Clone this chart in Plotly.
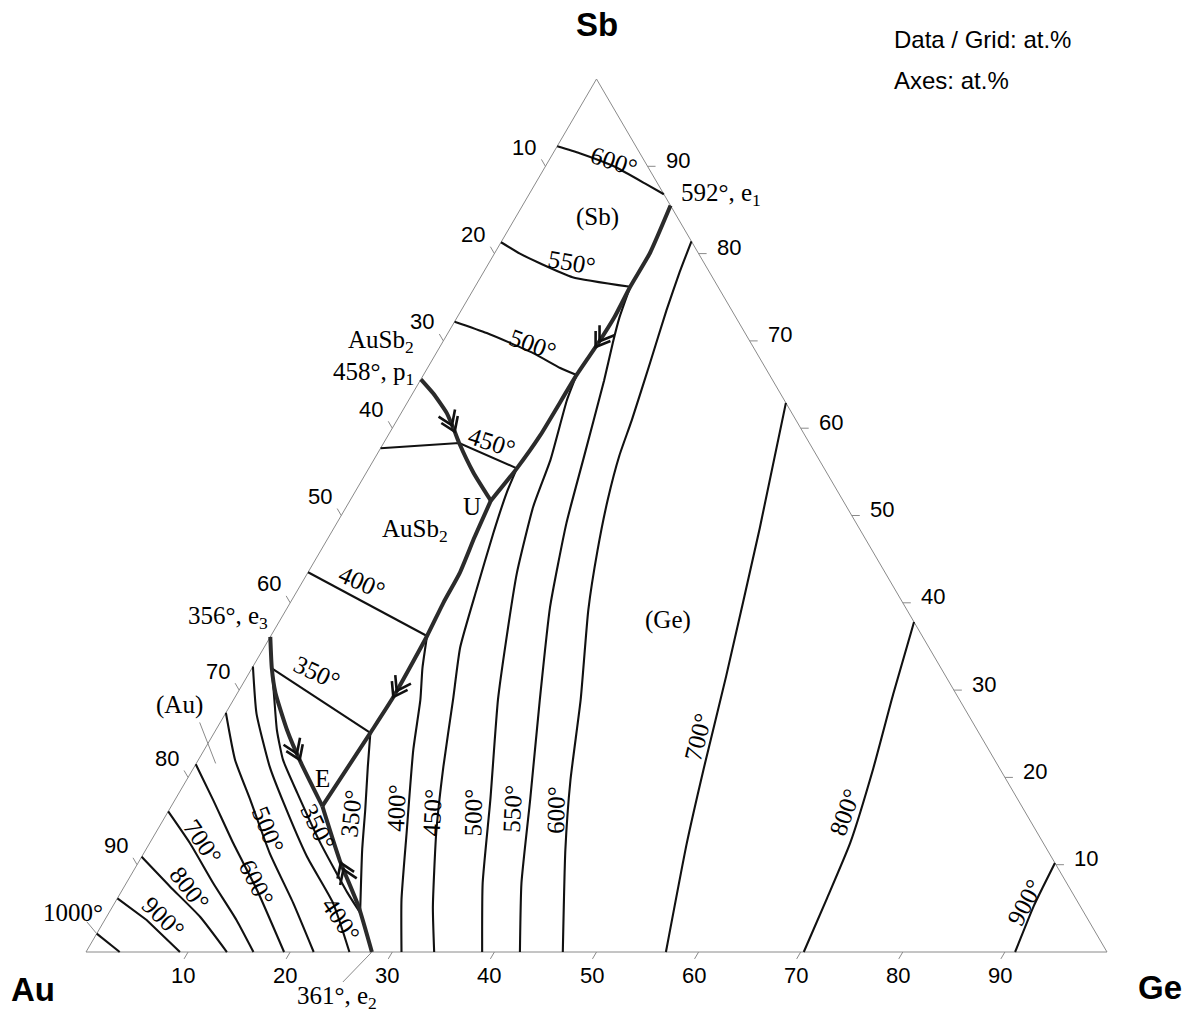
import math
import plotly.graph_objects as go

# ---------------------------------------------------------------
# Au-Ge-Sb liquidus projection, compositions in at.%
# every curve is stored as Ge and Sb lists (Au = 100 - Ge - Sb)
# ---------------------------------------------------------------
TICKS = [10, 20, 30, 40, 50, 60, 70, 80, 90]

# invariant points (Ge, Sb)
E1_GE, E1_SB = 14.5, 85.5      # 592 deg, e1
E2_GE, E2_SB = 28.0, 0.0       # 361 deg, e2
E3_GE, E3_SB = 0.0, 36.1       # 356 deg, e3
P1_GE, P1_SB = 0.0, 65.6       # 458 deg, p1
U_GE, U_SB = 13.8, 51.7        # U
E_GE, E_SB = 14.8, 16.7        # E

# monovariant valleys, ordered towards falling temperature
E1U_GE = [14.5, 15.2, 15.2, 15.4, 15.3, 15.0, 14.9, 14.5, 13.8]
E1U_SB = [85.5, 80.1, 76.2, 72.7, 69.8, 66.1, 59.2, 55.4, 51.7]
P1U_GE = [0.0, 2.0, 4.5, 6.4, 7.4, 10.5, 13.8]
P1U_SB = [65.6, 64.0, 61.7, 59.5, 58.3, 54.9, 51.7]
UE_GE = [13.8, 14.3, 14.9, 15.0, 15.3, 15.5, 15.3, 14.8]
UE_SB = [51.7, 47.5, 43.4, 40.0, 36.2, 29.2, 25.1, 16.7]
E3E_GE = [0.0, 1.95, 3.7, 7.0, 10.1, 14.8]
E3E_SB = [36.1, 32.5, 29.7, 25.4, 21.8, 16.7]
E2E_GE = [28.0, 24.1, 19.6, 14.8]
E2E_SB = [0.0, 5.2, 10.5, 16.7]

# isotherms, (Sb) primary field
SB600_GE = [0.0, 2.6, 6.7, 11.0, 13.2]
SB600_SB = [92.3, 91.5, 90.0, 87.9, 86.8]
SB550_GE = [0.0, 2.5, 5.0, 9.0, 15.2]
SB550_SB = [81.3, 80.0, 78.9, 77.3, 76.2]
SB500_GE = [0.0, 3.8, 9.5, 13.0, 15.0]
SB500_SB = [72.2, 70.9, 68.6, 66.9, 66.1]
SB450_GE = [0.0, 7.4, 14.5]
SB450_SB = [57.7, 58.3, 55.4]

# isotherms, AuSb2 primary field
AS400_GE = [0.0, 6.7, 15.3]
AS400_SB = [43.5, 40.3, 36.2]
AS350_GE = [1.95, 15.3]
AS350_SB = [32.5, 25.1]

# isotherms, (Au) primary field
AU1000_GE = [0.0, 3.3]
AU1000_SB = [2.1, 0.0]
AU900_GE = [0.0, 4.1, 9.2]
AU900_SB = [6.15, 3.67, 0.0]
AU800_GE = [0.0, 4.5, 9.15, 13.8]
AU800_SB = [10.9, 7.48, 4.04, 0.0]
AU700_GE = [0.0, 3.96, 8.53, 12.9, 16.4]
AU700_SB = [16.1, 12.45, 7.87, 3.67, 0.0]
AU600_GE = [0.0, 3.76, 8.2, 13.2, 19.4]
AU600_SB = [21.5, 17.4, 12.45, 7.1, 0.0]
AU500_GE = [0.0, 3.6, 7.4, 12.35, 17.5, 22.3]
AU500_SB = [27.4, 22.0, 17.4, 11.3, 5.6, 0.0]
AU400_GE = [0.0, 3.05, 7.4, 10.8, 16.2, 21.4, 25.8]
AU400_SB = [32.7, 27.3, 21.2, 17.1, 10.9, 5.6, 0.0]
AU350_GE = [1.95, 4.0, 6.0, 8.3, 11.6, 16.7, 22.2, 24.6]
AU350_SB = [32.5, 28.9, 25.4, 22.0, 18.2, 12.5, 6.8, 4.5]

# isotherms, (Ge) primary field
GE350_GE = [15.3, 17.0, 19.2, 21.2, 24.6]
GE350_SB = [25.1, 21.2, 16.3, 11.7, 4.5]
GE400_GE = [15.3, 16.7, 18.3, 20.5, 24.6, 27.9, 30.9]
GE400_SB = [36.2, 32.5, 28.9, 23.1, 13.6, 6.0, 0.0]
GE450_GE = [14.5, 14.9, 15.9, 17.5, 19.2, 21.5, 24.4, 27.5, 31.4, 34.1]
GE450_SB = [55.4, 52.6, 48.0, 41.5, 34.9, 28.9, 21.2, 13.6, 5.15, 0.0]
GE500_GE = [15.0, 15.5, 17.3, 18.3, 20.5, 23.3, 25.9, 30.9, 34.9, 38.8]
GE500_SB = [66.1, 63.2, 56.4, 51.0, 43.4, 35.7, 28.9, 17.4, 7.9, 0.0]
GE550_GE = [15.2, 15.9, 16.7, 18.0, 20.5, 22.5, 25.7, 30.0, 34.8, 38.7, 42.5]
GE550_SB = [76.2, 72.7, 69.8, 65.5, 56.4, 49.1, 39.5, 28.9, 17.4, 7.9, 0.0]
GE600_GE = [18.6, 19.2, 20.1, 21.5, 23.0, 23.8, 25.2, 27.1, 29.6, 34.0, 37.6, 41.1, 46.7]
GE600_SB = [81.4, 77.9, 73.5, 67.5, 60.9, 56.9, 51.8, 46.0, 39.2, 28.9, 19.7, 11.7, 0.0]
GE700_GE = [37.1, 41.7, 46.9, 50.0, 52.6, 56.8]
GE700_SB = [62.9, 48.6, 31.6, 21.0, 12.5, 0.0]
GE800_GE = [62.2, 64.3, 66.6, 68.6, 69.5, 70.3]
GE800_SB = [37.8, 29.5, 21.0, 12.5, 6.15, 0.0]
GE900_GE = [89.8, 90.0, 90.2, 91.0]
GE900_SB = [10.2, 7.5, 5.2, 0.0]

# temperature labels: (Ge, Sb, text, rotation)
SB_FIELD_LABELS = [(6.5, 90.5, "600°", 18), (8.1, 79.0, "550°", 10),
                   (9.0, 69.6, "500°", 20), (10.6, 58.4, "450°", 18)]
AUSB2_FIELD_LABELS = [(5.9, 42.3, "400°", 24), (6.6, 32.0, "350°", 25)]
AU_FIELD_LABELS = [(5.6, 3.9, "900°", 44), (6.5, 7.3, "800°", 52),
                   (5.2, 12.6, "700°", 56), (12.7, 8.0, "600°", 63),
                   (10.8, 14.0, "500°", 68), (23.1, 3.7, "400°", 56),
                   (15.6, 14.3, "350°", 64)]
GE_FIELD_LABELS = [(18.0, 15.9, "350°", -84), (22.2, 16.5, "400°", -88),
                   (25.9, 16.0, "450°", -87), (29.9, 16.0, "500°", -89),
                   (33.6, 16.4, "550°", -87), (37.9, 16.3, "600°", -89),
                   (47.6, 24.6, "700°", -76), (66.3, 16.0, "800°", -70),
                   (89.1, 5.7, "900°", -62)]

# point inside the (Au) field that its caption points to
AU_FIELD_GE, AU_FIELD_SB = 1.9, 21.6

# ---------------------------------------------------------------
W, H = 1194, 1022
X_RANGE = [-8.4231, 108.5211]
Y_RANGE = [-8.0183, 109.0493]
KX = W / (X_RANGE[1] - X_RANGE[0])    # px per x unit
KY = H / (Y_RANGE[1] - Y_RANGE[0])    # px per y unit

SERIF = "Liberation Serif, Times New Roman, serif"
SANS = "Liberation Sans, Arial, Helvetica, sans-serif"
INK = "#111111"
FRAME = "#8a8a8a"


def to_xy(ge, sb):
    """Composition (Ge, Sb) -> plane coordinates of the triangle."""
    return [g + s / 2.0 for g, s in zip(ge, sb)], list(sb)


fig = go.Figure()


def add_path(x, y, width, color=INK, smooth=True):
    line = dict(color=color, width=width)
    if smooth and len(x) > 3:
        line.update(shape="spline", smoothing=0.5)
    fig.add_trace(go.Scatter(x=x, y=y, mode="lines", line=line,
                             hoverinfo="skip", showlegend=False))


def add_curve(ge, sb, width=2.0, color=INK, smooth=True):
    x, y = to_xy(ge, sb)
    add_path(x, y, width, color, smooth)


# triangle frame
fx, fy = to_xy([0, 100, 0, 0], [0, 0, 100, 0])
add_path(fx, fy, 1.0, FRAME, smooth=False)


# tick marks, drawn in pixel space then mapped back to plane units
def px_dir(dx_units, dy_units):
    vx, vy = dx_units * KX, dy_units * KY
    n = math.hypot(vx, vy)
    return vx / n, vy / n


LEFT_DIR = px_dir(-50, 100)      # parallel to the Sb-Ge side, outwards
BOTTOM_DIR = px_dir(-50, -100)   # parallel to the Au-Sb side, outwards
RIGHT_DIR = (1.0, 0.0)           # constant Sb, outwards
TICK_LEN = 8

tx, ty = [], []
for v in TICKS:
    for (ge, sb), d in (((0, 100 - v), LEFT_DIR), ((v, 0), BOTTOM_DIR),
                        ((100 - v, v), RIGHT_DIR)):
        (x0,), (y0,) = to_xy([ge], [sb])
        tx += [x0, x0 + d[0] * TICK_LEN / KX, None]
        ty += [y0, y0 + d[1] * TICK_LEN / KY, None]
add_path(tx, ty, 1.0, FRAME, smooth=False)

# isotherms
for ge, sb in [(SB600_GE, SB600_SB), (SB550_GE, SB550_SB), (SB500_GE, SB500_SB),
               (AS400_GE, AS400_SB), (AS350_GE, AS350_SB),
               (AU1000_GE, AU1000_SB), (AU900_GE, AU900_SB), (AU800_GE, AU800_SB),
               (AU700_GE, AU700_SB), (AU600_GE, AU600_SB), (AU500_GE, AU500_SB),
               (AU400_GE, AU400_SB), (AU350_GE, AU350_SB),
               (GE350_GE, GE350_SB), (GE400_GE, GE400_SB), (GE450_GE, GE450_SB),
               (GE500_GE, GE500_SB), (GE550_GE, GE550_SB), (GE600_GE, GE600_SB),
               (GE700_GE, GE700_SB), (GE800_GE, GE800_SB), (GE900_GE, GE900_SB)]:
    add_curve(ge, sb, 2.1)
add_curve(SB450_GE, SB450_SB, 2.1, smooth=False)

# valleys (thick)
VALLEYS = [(E1U_GE, E1U_SB), (P1U_GE, P1U_SB), (UE_GE, UE_SB),
           (E3E_GE, E3E_SB), (E2E_GE, E2E_SB)]
for ge, sb in VALLEYS:
    add_curve(ge, sb, 4.0, "#2b2b2b")


# double chevrons showing falling temperature along the valleys
def chevrons(ge, sb, sb_at, arm=16.0, half=34.0, gap=7.0, count=2):
    X = [(g + s / 2.0) * KX for g, s in zip(ge, sb)]
    Y = [s * KY for s in sb]
    for i in range(len(sb) - 1):
        s0, s1 = sb[i], sb[i + 1]
        if s0 != s1 and min(s0, s1) <= sb_at <= max(s0, s1):
            t = (sb_at - s0) / (s1 - s0)
            px, py = X[i] + t * (X[i + 1] - X[i]), Y[i] + t * (Y[i + 1] - Y[i])
            dx, dy = X[i + 1] - X[i], Y[i + 1] - Y[i]
            n = math.hypot(dx, dy)
            dx, dy = dx / n, dy / n
            break
    xs, ys = [], []
    for k in range(count):
        cx, cy = px - k * gap * dx, py - k * gap * dy
        pts = []
        for sgn in (1, -1):
            a = math.radians(180 + sgn * half)
            ax = dx * math.cos(a) - dy * math.sin(a)
            ay = dx * math.sin(a) + dy * math.cos(a)
            pts.append((cx + arm * ax, cy + arm * ay))
        for (qx, qy) in (pts[0], (cx, cy), pts[1]):
            xs.append(qx / KX)
            ys.append(qy / KY)
        xs.append(None)
        ys.append(None)
    add_path(xs, ys, 2.6, INK, smooth=False)


chevrons(E1U_GE, E1U_SB, 69.3)
chevrons(P1U_GE, P1U_SB, 59.6)
chevrons(UE_GE, UE_SB, 29.2)
chevrons(E3E_GE, E3E_SB, 22.0)
chevrons(E2E_GE, E2E_SB, 10.2)


# short leader lines for point and field captions
def leader(ge, sb, dpx, dpy):
    (x0,), (y0,) = to_xy([ge], [sb])
    add_path([x0, x0 + dpx / KX], [y0, y0 + dpy / KY], 1.0, FRAME, smooth=False)


leader(E2_GE, E2_SB, -29, -30)
leader(AU1000_GE[0], AU1000_SB[0], -10, 12)
leader(AU_FIELD_GE, AU_FIELD_SB, -16, 41)

# ---------------------------------------------------------------
annotations = []


def note(ge, sb, text, angle=0, size=25, family=SERIF, xanchor="center",
         xshift=0, yshift=0):
    (x0,), (y0,) = to_xy([ge], [sb])
    annotations.append(dict(x=x0, y=y0, xref="x", yref="y", text=text,
                            showarrow=False, textangle=angle,
                            font=dict(family=family, size=size, color="#000"),
                            xanchor=xanchor, yanchor="middle",
                            xshift=xshift, yshift=yshift))


for lst in (SB_FIELD_LABELS, AUSB2_FIELD_LABELS, AU_FIELD_LABELS, GE_FIELD_LABELS):
    for ge, sb, txt, ang in lst:
        note(ge, sb, txt, ang)

# phase fields and invariant points
note(7.95, 84.2, "(Sb)")
note(8.05, 48.3, "AuSb<sub>2</sub>")
note(38.0, 38.0, "(Ge)")
note(U_GE, U_SB, "U", xshift=-19, yshift=-6)
note(E_GE, E_SB, "E", xshift=0, yshift=28)
note(E1_GE, E1_SB, "592°, e<sub>1</sub>", xanchor="left", xshift=8, yshift=11)
note(E2_GE, E2_SB, "361°, e<sub>2</sub>", xshift=-35, yshift=-45)
note(E3_GE, E3_SB, "356°, e<sub>3</sub>", xanchor="right", xshift=0, yshift=19)
note(P1_GE, P1_SB, "458°, p<sub>1</sub>", xanchor="right", xshift=-5, yshift=6)
note(P1_GE, P1_SB, "AuSb<sub>2</sub>", xanchor="right", xshift=-5, yshift=38)
note(AU1000_GE[0], AU1000_SB[0], "1000°", xanchor="right", xshift=8, yshift=21)
note(AU_FIELD_GE, AU_FIELD_SB, "(Au)", xshift=-36, yshift=58)

# axis numbers: Au on the left side, Ge along the base, Sb on the right side
for v in TICKS:
    note(0, 100 - v, str(v), size=22, family=SANS, xshift=-21, yshift=19)
    note(v, 0, str(v), size=22, family=SANS, xshift=-5, yshift=-23)
    note(100 - v, v, str(v), size=22, family=SANS, xshift=30, yshift=6)

# corner captions and header
for txt, px, py in (("Sb", 597, 25), ("Au", 33, 989), ("Ge", 1160, 987)):
    annotations.append(dict(x=px / W, y=1 - py / H, xref="paper", yref="paper",
                            text="<b>%s</b>" % txt, showarrow=False,
                            font=dict(family=SANS, size=33, color="#000"),
                            xanchor="center", yanchor="middle"))
for txt, py in (("Data / Grid: at.%", 39), ("Axes: at.%", 80)):
    annotations.append(dict(x=892 / W, y=1 - py / H, xref="paper", yref="paper",
                            text=txt, showarrow=False,
                            font=dict(family=SANS, size=24, color="#000"),
                            xanchor="left", yanchor="middle"))

fig.update_layout(
    width=W, height=H,
    margin=dict(l=0, r=0, t=0, b=0, pad=0),
    paper_bgcolor="white", plot_bgcolor="white",
    xaxis=dict(range=X_RANGE, visible=False, fixedrange=True),
    yaxis=dict(range=Y_RANGE, visible=False, fixedrange=True),
    annotations=annotations,
    showlegend=False,
)

fig.write_html("out.html")
